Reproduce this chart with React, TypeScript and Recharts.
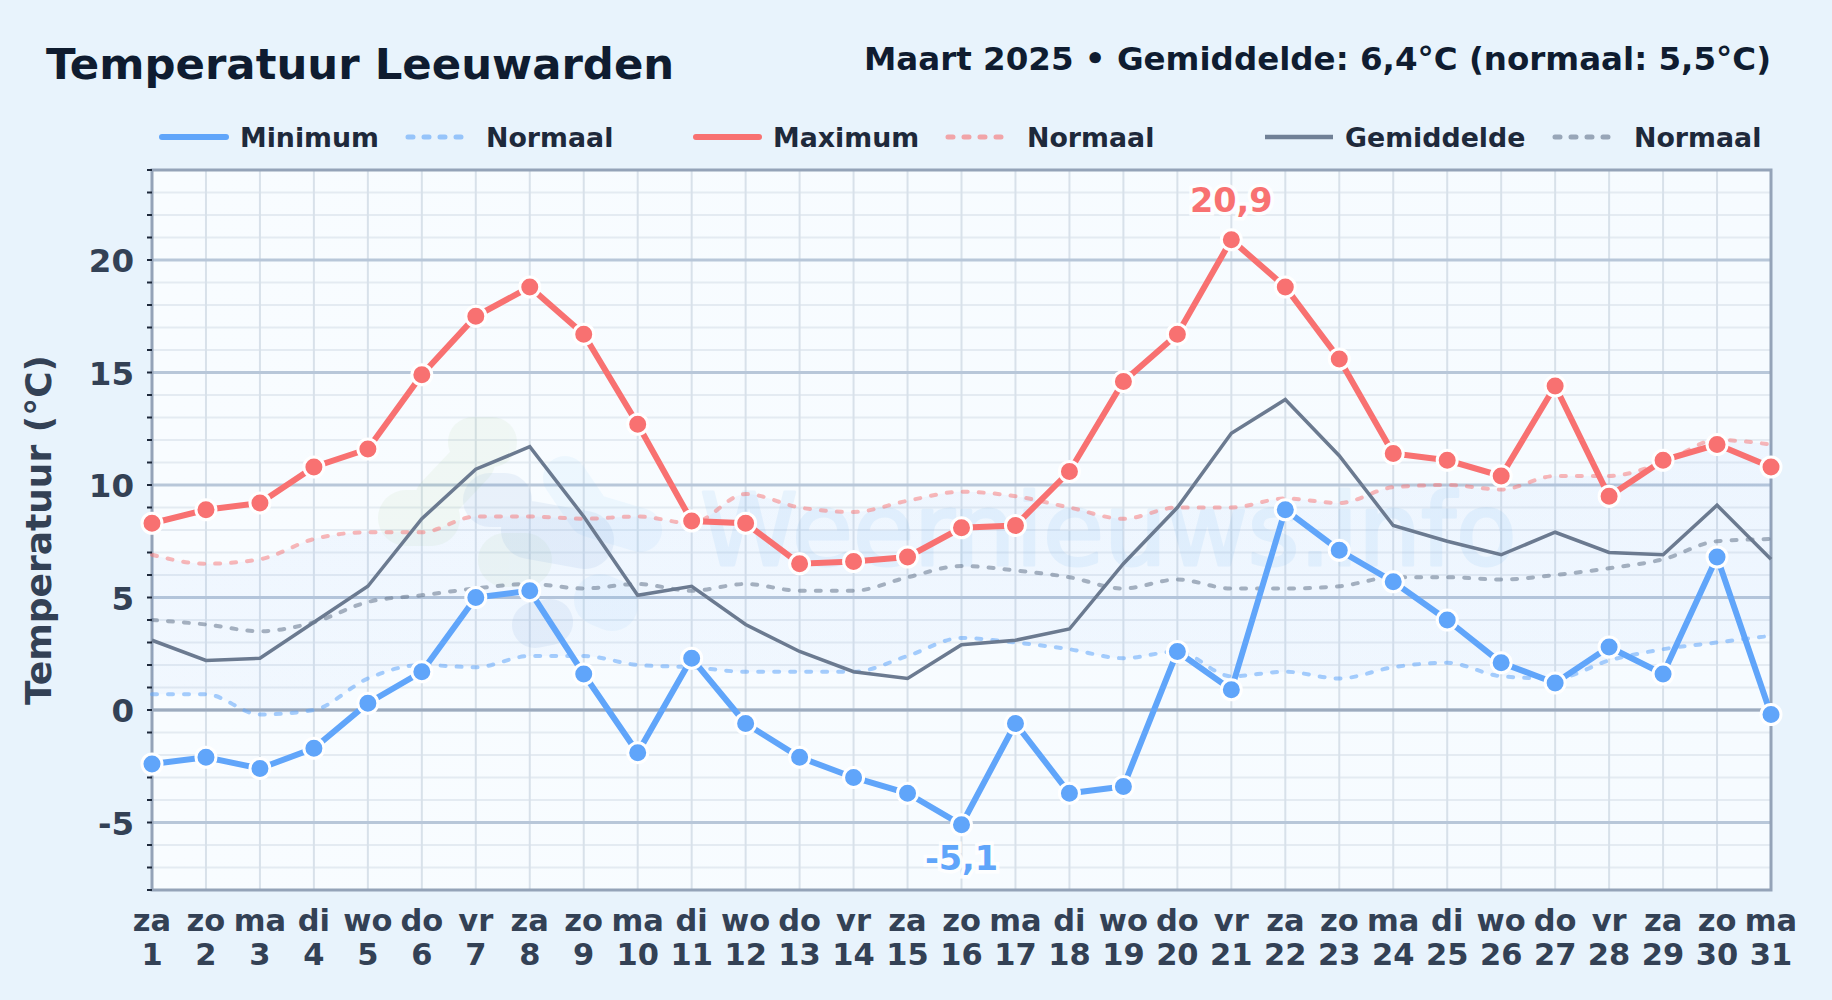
import {
  Area,
  CartesianGrid,
  ComposedChart,
  Line,
  ReferenceArea,
  ReferenceLine,
  XAxis,
  YAxis,
} from 'recharts';

const weekdays = ['za', 'zo', 'ma', 'di', 'wo', 'do', 'vr', 'za', 'zo', 'ma', 'di', 'wo', 'do', 'vr', 'za', 'zo', 'ma', 'di', 'wo', 'do', 'vr', 'za', 'zo', 'ma', 'di', 'wo', 'do', 'vr', 'za', 'zo', 'ma'];
const days = weekdays.map((_, i) => i + 1);

const minimum = [-2.4, -2.1, -2.6, -1.7, 0.3, 1.7, 5.0, 5.3, 1.6, -1.9, 2.3, -0.6, -2.1, -3.0, -3.7, -5.1, -0.6, -3.7, -3.4, 2.6, 0.9, 8.9, 7.1, 5.7, 4.0, 2.1, 1.2, 2.8, 1.6, 6.8, -0.2];
const maximum = [8.3, 8.9, 9.2, 10.8, 11.6, 14.9, 17.5, 18.8, 16.7, 12.7, 8.4, 8.3, 6.5, 6.6, 6.8, 8.1, 8.2, 10.6, 14.6, 16.7, 20.9, 18.8, 15.6, 11.4, 11.1, 10.4, 14.4, 9.5, 11.1, 11.8, 10.8];
const average = [3.1, 2.2, 2.3, 3.9, 5.5, 8.5, 10.7, 11.7, 8.6, 5.1, 5.5, 3.8, 2.6, 1.7, 1.4, 2.9, 3.1, 3.6, 6.5, 9.0, 12.3, 13.8, 11.3, 8.2, 7.5, 6.9, 7.9, 7.0, 6.9, 9.1, 6.7];
const normalMin = [0.7, 0.7, -0.2, 0.0, 1.4, 2.0, 1.9, 2.4, 2.4, 2.0, 1.9, 1.7, 1.7, 1.7, 2.4, 3.2, 3.0, 2.7, 2.3, 2.6, 1.5, 1.7, 1.4, 1.9, 2.1, 1.5, 1.4, 2.2, 2.7, 3.0, 3.3];
const normalMax = [6.9, 6.5, 6.7, 7.6, 7.9, 7.9, 8.6, 8.6, 8.5, 8.6, 8.3, 9.6, 9.0, 8.8, 9.3, 9.7, 9.5, 9.0, 8.5, 9.0, 9.0, 9.4, 9.2, 9.9, 10.0, 9.8, 10.4, 10.4, 11.0, 12.0, 11.8];
const normalAvg = [4.0, 3.8, 3.5, 3.9, 4.8, 5.1, 5.4, 5.6, 5.4, 5.6, 5.3, 5.6, 5.3, 5.3, 5.9, 6.4, 6.2, 5.9, 5.4, 5.8, 5.4, 5.4, 5.5, 5.9, 5.9, 5.8, 6.0, 6.3, 6.7, 7.5, 7.6];

const yTicks = [-8, -7, -6, -5, -4, -3, -2, -1, 0, 1, 2, 3, 4, 5, 6, 7, 8, 9, 10, 11, 12, 13, 14, 15, 16, 17, 18, 19, 20, 21, 22, 23, 24];
const majorTicks = [-5, 0, 5, 10, 15, 20];

const rows = days.map((day, i) => ({
  day,
  minimum: minimum[i],
  maximum: maximum[i],
  average: average[i],
  normalMin: normalMin[i],
  normalMax: normalMax[i],
  normalAvg: normalAvg[i],
  band: [normalMin[i], normalMax[i]],
}));

const BLUE = '#60a5fa';
const RED = '#f87171';
const SLATE = '#64748b';
const DASH = '5 11';
const FONT = '"DejaVu Sans", sans-serif';

const DayTick = ({ x, y, payload }: any) => (
  <text x={x} y={y} textAnchor="middle" fontFamily={FONT} fontWeight={700} fontSize={30.5} fill="#334155">
    <tspan x={x} y={931}>{weekdays[payload.value - 1]}</tspan>
    <tspan x={x} y={965}>{payload.value}</tspan>
  </text>
);

const TempTick = ({ x, y, payload }: any) =>
  payload.value % 5 === 0 && payload.value >= -5 && payload.value <= 20 ? (
    <text x={134} y={y + 12} textAnchor="end" fontFamily={FONT} fontWeight={700} fontSize={32.5} fill="#334155">
      {payload.value}
    </text>
  ) : null;

// only the extremes of the month get a value label
const extremeLabel = (target: number, values: number[], color: string, dy: number) => ({ x, y, index }: any) =>
  values[index] === target ? (
    <text
      key={index}
      x={x}
      y={y + dy}
      textAnchor="middle"
      fontFamily={FONT}
      fontWeight={700}
      fontSize={33.5}
      fill={color}
      stroke="#ffffff"
      strokeWidth={7}
      strokeOpacity={0.85}
      paintOrder="stroke"
    >
      {String(target).replace('.', ',')}
    </text>
  ) : (
    <g key={index} />
  );

const Watermark = () => (
  <g strokeLinecap="round" strokeLinejoin="round" fill="none" style={{ pointerEvents: 'none' }}>
    <g stroke="#8fbf70" opacity={0.07}>
      <path d="M473 442 L492 442" strokeWidth={50} />
      <path d="M472 462 L438 498" strokeWidth={46} />
      <path d="M406 518 L432 518" strokeWidth={56} />
      <path d="M505 560 L525 560" strokeWidth={54} />
    </g>
    <g stroke="#5b8fd0" opacity={0.09}>
      <path d="M490 500 L505 500" strokeWidth={54} />
      <path d="M530 530 L585 540" strokeWidth={58} />
      <path d="M535 625 L550 622" strokeWidth={46} />
    </g>
    <g stroke="#74bdf5" opacity={0.08}>
      <path d="M565 478 L590 515 L640 530" strokeWidth={44} />
      <path d="M600 600 L612 605" strokeWidth={52} />
    </g>
    <text x={700} y={565} fontFamily={FONT} fontSize={99} fill="#3b9ae8" stroke="#3b9ae8" strokeWidth={3} opacity={0.08}>
      Weernieuws.info
    </text>
  </g>
);

const legendItems = [
  { label: 'Minimum', color: BLUE, x1: 162, x2: 226, width: 6, textX: 240, cap: 'round', dash: undefined, opacity: 1 },
  { label: 'Normaal', color: BLUE, x1: 408, x2: 464, width: 5, textX: 486, cap: 'round', dash: DASH, opacity: 0.6 },
  { label: 'Maximum', color: RED, x1: 696, x2: 759, width: 6, textX: 773, cap: 'round', dash: undefined, opacity: 1 },
  { label: 'Normaal', color: RED, x1: 948, x2: 1005, width: 5, textX: 1027, cap: 'round', dash: DASH, opacity: 0.6 },
  { label: 'Gemiddelde', color: SLATE, x1: 1265, x2: 1333, width: 4.5, textX: 1345, cap: 'butt', dash: undefined, opacity: 0.9 },
  { label: 'Normaal', color: SLATE, x1: 1555, x2: 1618, width: 5, textX: 1634, cap: 'round', dash: DASH, opacity: 0.6 },
];

const Header = () => (
  <svg width={1832} height={1000} style={{ position: 'absolute', left: 0, top: 0 }} fontFamily={FONT} fontWeight={700}>
    <text x={46} y={79} fontSize={43.4} fill="#0f1c30">Temperatuur Leeuwarden</text>
    <text x={1771} y={70} fontSize={32.5} fill="#0f1c30" textAnchor="end">
      Maart 2025 • Gemiddelde: 6,4°C (normaal: 5,5°C)
    </text>
    {legendItems.map((item) => (
      <g key={item.textX}>
        <line
          x1={item.x1}
          x2={item.x2}
          y1={137}
          y2={137}
          stroke={item.color}
          strokeWidth={item.width}
          strokeLinecap={item.cap as any}
          strokeDasharray={item.dash}
          opacity={item.opacity}
        />
        <text x={item.textX} y={147} fontSize={26.8} fill="#1e293b">{item.label}</text>
      </g>
    ))}
    <text transform="translate(51 530) rotate(-90)" textAnchor="middle" fontSize={36} fill="#334155">
      Temperatuur (°C)
    </text>
  </svg>
);

export default function App() {
  return (
    <div style={{ position: 'absolute', left: 0, top: 0, width: 1832, height: 1000, background: '#e8f3fc', overflow: 'hidden' }}>
      <Header />
      <div style={{ position: 'absolute', left: 0, top: 0 }}>
        <ComposedChart width={1832} height={1000} data={rows} margin={{ top: 170, right: 61, bottom: 0, left: 0 }}>
          <defs>
            <linearGradient id="plotBg" x1="0" y1="0" x2="1" y2="0">
              <stop offset="0" stopColor="#f8fcff" />
              <stop offset="1" stopColor="#f6fbff" />
            </linearGradient>
            <linearGradient id="bandFill" x1="0" y1="0" x2="0" y2="1">
              <stop offset="0" stopColor="#3b82f6" stopOpacity={0.08} />
              <stop offset="1" stopColor="#3b82f6" stopOpacity={0.06} />
            </linearGradient>
          </defs>
          <CartesianGrid fill="url(#plotBg)" stroke="#e4ebf2" strokeWidth={2} vertical={false} horizontalValues={yTicks} />
          <CartesianGrid stroke="#d8e1ea" strokeWidth={2} horizontal={false} verticalValues={days} />
          <CartesianGrid stroke="#b8c7d9" strokeWidth={3} vertical={false} horizontalValues={majorTicks} />
          <ReferenceLine y={0} stroke="#9dabbe" strokeWidth={3} />
          <Watermark />
          <XAxis
            dataKey="day"
            type="category"
            scale="point"
            height={110}
            interval={0}
            axisLine={false}
            tickLine={false}
            tick={<DayTick />}
          />
          <YAxis
            type="number"
            domain={[-8, 24]}
            ticks={yTicks}
            interval={0}
            width={152}
            tickSize={5}
            axisLine={false}
            tickLine={{ stroke: '#1e293b', strokeWidth: 2 }}
            tick={<TempTick />}
          />
          <ReferenceArea y1={-8} y2={24} x1={1} x2={31} fill="none" stroke="#94a3b8" strokeWidth={3} />
          <Area dataKey="band" type="monotone" fill="url(#bandFill)" stroke="none" dot={false} activeDot={false} isAnimationActive={false} />
          <Line dataKey="normalMin" type="monotone" stroke={BLUE} strokeOpacity={0.55} strokeWidth={4} strokeDasharray={DASH} strokeLinecap="round" dot={false} activeDot={false} isAnimationActive={false} />
          <Line dataKey="normalMax" type="monotone" stroke={RED} strokeOpacity={0.5} strokeWidth={4} strokeDasharray={DASH} strokeLinecap="round" dot={false} activeDot={false} isAnimationActive={false} />
          <Line dataKey="normalAvg" type="monotone" stroke={SLATE} strokeOpacity={0.55} strokeWidth={4} strokeDasharray={DASH} strokeLinecap="round" dot={false} activeDot={false} isAnimationActive={false} />
          <Line dataKey="average" stroke="#6b7a90" strokeWidth={3.5} dot={false} activeDot={false} isAnimationActive={false} />
          <Line
            dataKey="maximum"
            stroke={RED}
            strokeWidth={6}
            dot={{ r: 10, fill: RED, stroke: '#ffffff', strokeWidth: 3 }}
            activeDot={false}
            label={extremeLabel(20.9, maximum, RED, -28)}
            isAnimationActive={false}
          />
          <Line
            dataKey="minimum"
            stroke={BLUE}
            strokeWidth={6}
            dot={{ r: 10, fill: BLUE, stroke: '#ffffff', strokeWidth: 3 }}
            activeDot={false}
            label={extremeLabel(-5.1, minimum, BLUE, 45)}
            isAnimationActive={false}
          />
        </ComposedChart>
      </div>
    </div>
  );
}
